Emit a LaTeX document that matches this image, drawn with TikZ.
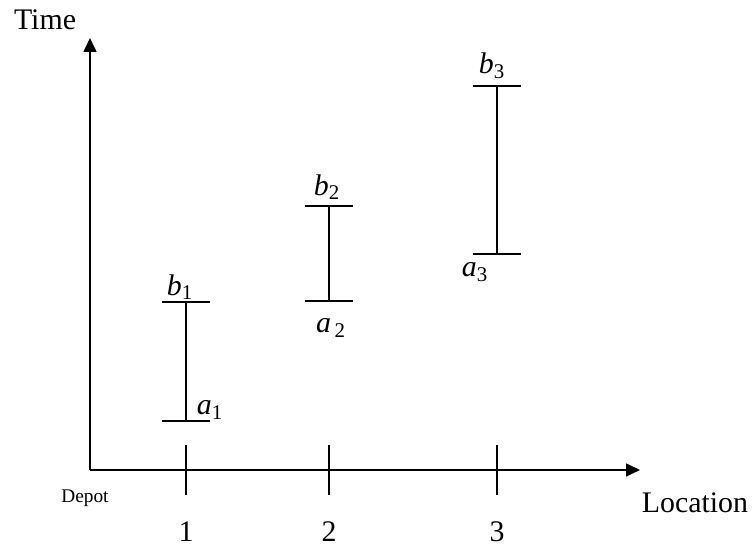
\documentclass[tikz,border=0pt]{standalone}
\usepackage{fontspec}
\setmainfont{Liberation Serif}
\usetikzlibrary{arrows.meta,positioning}
\tikzset{
    axisline/.style={
        -{Triangle[length=2.8mm,width=2.6mm]},
        draw=black,
        line width=0.9pt
    },
    windowline/.style={
        draw=black,
        line width=0.9pt
    },
    tickline/.style={
        draw=black,
        line width=0.7pt
    },
    bound/.style={
        inner sep=0pt,
        font=\fontsize{17}{20}\selectfont\itshape
    },
    axislabel/.style={
        inner sep=0pt,
        font=\fontsize{17}{20}\selectfont
    }
}
\newcommand{\sublabel}[2]{#1\textsubscript{\upshape #2}}

\begin{document}
\begin{tikzpicture}
        \useasboundingbox (0,0) rectangle (15.04,10.98);

        \coordinate (origin) at (1.80,1.58);
        \coordinate (timeTip) at (1.80,10.22);
        \coordinate (locTip) at (12.80,1.58);

        \draw[axisline] (origin) -- (timeTip);
        \draw[axisline] (origin) -- (locTip);

        \node[axislabel] (timeLabel) at (0.90,10.58) {Time};
        \node[axislabel] (locLabel) at (13.90,0.92) {Location};
        \node[inner sep=0pt,font=\fontsize{11}{13}\selectfont]
            (depotLabel) at (1.70,1.02) {Depot};

        \coordinate (tickOne) at (3.72,1.58);
        \coordinate (tickTwo) at (6.58,1.58);
        \coordinate (tickThree) at (9.94,1.58);

        \draw[tickline] ([yshift=0.50cm]tickOne) -- ([yshift=-0.50cm]tickOne);
        \draw[tickline] ([yshift=0.50cm]tickTwo) -- ([yshift=-0.50cm]tickTwo);
        \draw[tickline] ([yshift=0.50cm]tickThree) -- ([yshift=-0.50cm]tickThree);

        \node[axislabel] (numOne) at (3.72,0.34) {1};
        \node[axislabel] (numTwo) at (6.58,0.34) {2};
        \node[axislabel] (numThree) at (9.94,0.34) {3};

        % time windows
        \coordinate (bOne) at (3.72,4.94);
        \coordinate (aOne) at (3.72,2.56);
        \coordinate (bTwo) at (6.58,6.86);
        \coordinate (aTwo) at (6.58,4.96);
        \coordinate (bThree) at (9.94,9.26);
        \coordinate (aThree) at (9.94,5.90);

        \draw[windowline] (bOne) -- (aOne);
        \draw[windowline] ([xshift=-0.48cm]bOne) -- ([xshift=0.48cm]bOne);
        \draw[windowline] ([xshift=-0.48cm]aOne) -- ([xshift=0.48cm]aOne);

        \draw[windowline] (bTwo) -- (aTwo);
        \draw[windowline] ([xshift=-0.48cm]bTwo) -- ([xshift=0.48cm]bTwo);
        \draw[windowline] ([xshift=-0.48cm]aTwo) -- ([xshift=0.48cm]aTwo);

        \draw[windowline] (bThree) -- (aThree);
        \draw[windowline] ([xshift=-0.48cm]bThree) -- ([xshift=0.48cm]bThree);
        \draw[windowline] ([xshift=-0.48cm]aThree) -- ([xshift=0.48cm]aThree);

        \node[bound] (bOneLabel) at (3.60,5.24) {\sublabel{b}{1}};
        \node[bound] (aOneLabel) at (4.20,2.78) {\sublabel{a}{1}};
        \node[bound] (bTwoLabel) at (6.54,7.24) {\sublabel{b}{2}};
        \node[bound] (aTwoLabel) at (6.62,4.42) {\sublabel{a}{\,2}};
        \node[bound] (bThreeLabel) at (9.84,9.66) {\sublabel{b}{3}};
        \node[bound] (aThreeLabel) at (9.50,5.54) {\sublabel{a}{3}};
    \end{tikzpicture}
\end{document}
